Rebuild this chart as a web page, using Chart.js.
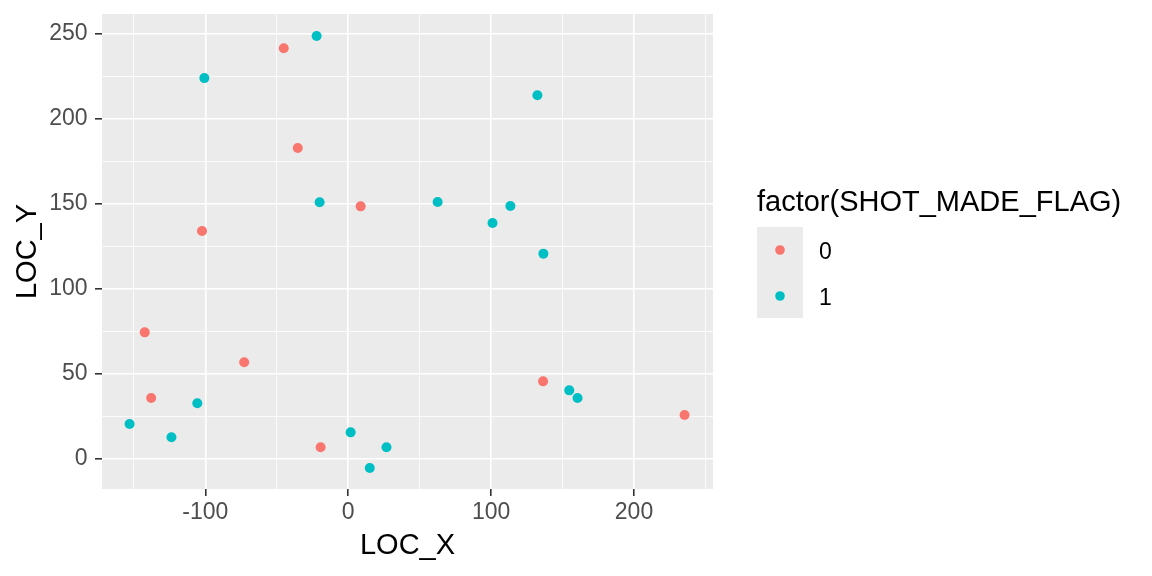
<!DOCTYPE html>
<html>
<head>
<meta charset="utf-8">
<script src="https://cdn.jsdelivr.net/npm/chart.js@4/dist/chart.umd.min.js"></script>
<style>
  html, body { margin: 0; padding: 0; background: #ffffff; }
  canvas { display: block; }
</style>
</head>
<body>
<canvas id="shotChart" width="1152" height="576"></canvas>
<script>
// shots that missed (SHOT_MADE_FLAG = 0)
const missX = [-45.1, -35.3, 8.7, -102.3, -142.4, -72.8, -137.9, -19.3, 136.4, 235.4];
const missY = [241.6, 182.9, 148.6, 134.1, 74.5, 56.9, 35.9, 6.9, 45.7, 25.9];
// shots that went in (SHOT_MADE_FLAG = 1)
const madeX = [-22.1, -100.7, -20.0, 62.6, 113.5, 101.0, 132.4, 136.6, -105.6, -153.0, -123.7, 1.7, 15.1, 26.8, 154.7, 160.5];
const madeY = [248.8, 224.0, 151.0, 151.2, 148.8, 138.8, 213.9, 120.8, 32.8, 20.6, 12.8, 15.7, -5.3, 6.9, 40.4, 35.9];

const xTickLabels = [-100, 0, 100, 200];
const yTickLabels = [0, 50, 100, 150, 200, 250];
const flagLabels = ["0", "1"];
const flagColors = ["#F8766D", "#00BFC4"];

const FONT = "'Liberation Sans', Arial, sans-serif";

function toPoints(xs, ys) {
    return xs.map((x, i) => ({ x: x, y: ys[i] }));
}

// grey panel behind the grid
const panelBg = {
    id: "panelBg",
    beforeDraw(chart) {
        const a = chart.chartArea;
        const ctx = chart.ctx;
        ctx.save();
        ctx.fillStyle = "#EBEBEB";
        ctx.fillRect(a.left, a.top, a.right - a.left, a.bottom - a.top);
        ctx.restore();
    }
};

// ggplot style legend on the right
const ggLegend = {
    id: "ggLegend",
    afterDraw(chart) {
        const ctx = chart.ctx;
        ctx.save();
        ctx.fillStyle = "#000000";
        ctx.font = "29px " + FONT;
        ctx.textBaseline = "alphabetic";
        ctx.textAlign = "left";
        ctx.fillText("factor(SHOT_MADE_FLAG)", 757, 211);
        ctx.fillStyle = "#EBEBEB";
        ctx.fillRect(757, 227, 46, 91);
        ctx.font = "23px " + FONT;
        flagLabels.forEach((lab, i) => {
            const cy = 250 + i * 46;
            ctx.fillStyle = flagColors[i];
            ctx.beginPath();
            ctx.arc(780, cy, 4.8, 0, Math.PI * 2);
            ctx.fill();
            ctx.fillStyle = "#000000";
            ctx.fillText(lab, 819, cy + 9);
        });
        ctx.restore();
    }
};

const ctx = document.getElementById("shotChart").getContext("2d");

const myChart = new Chart(ctx, {
    type: "scatter",
    data: {
        datasets: [
            {
                label: flagLabels[0],
                data: toPoints(missX, missY),
                backgroundColor: flagColors[0],
                borderWidth: 0,
                pointRadius: 5,
            },
            {
                label: flagLabels[1],
                data: toPoints(madeX, madeY),
                backgroundColor: flagColors[1],
                borderWidth: 0,
                pointRadius: 5,
            },
        ],
    },
    options: {
        responsive: false,
        animation: false,
        devicePixelRatio: 1,
        layout: {
            padding: { left: 0, top: 14, right: 439, bottom: 0 }
        },
        plugins: {
            legend: { display: false },
            tooltip: { enabled: false },
        },
        scales: {
            x: {
                type: "linear",
                min: -172.3,
                max: 255.3,
                border: { display: false },
                grid: {
                    color: "#FFFFFF",
                    lineWidth: (c) => xTickLabels.includes(c.tick && c.tick.value) ? 1.6 : 0.8,
                    tickColor: (c) => xTickLabels.includes(c.tick && c.tick.value) ? "#333333" : "rgba(0,0,0,0)",
                    tickWidth: 1.6,
                    tickLength: 7,
                },
                ticks: {
                    stepSize: 50,
                    includeBounds: false,
                    autoSkip: false,
                    maxRotation: 0,
                    padding: 5,
                    color: "#4D4D4D",
                    font: { family: FONT, size: 23, lineHeight: 1 },
                    callback: (v) => xTickLabels.includes(v) ? String(v) : "",
                },
                title: {
                    display: true,
                    text: "LOC_X",
                    color: "#000000",
                    font: { family: FONT, size: 29, lineHeight: 1 },
                    padding: { top: 0, bottom: 16 },
                },
                afterFit(scale) {
                    scale.height = 87;
                    scale.paddingLeft = 0;
                    scale.paddingRight = 0;
                },
            },
            y: {
                type: "linear",
                min: -17.6,
                max: 261.7,
                border: { display: false },
                grid: {
                    color: "#FFFFFF",
                    lineWidth: (c) => yTickLabels.includes(c.tick && c.tick.value) ? 1.6 : 0.8,
                    tickColor: (c) => yTickLabels.includes(c.tick && c.tick.value) ? "#333333" : "rgba(0,0,0,0)",
                    tickWidth: 1.6,
                    tickLength: 7,
                },
                ticks: {
                    stepSize: 25,
                    includeBounds: false,
                    autoSkip: false,
                    padding: 7.5,
                    color: "#4D4D4D",
                    font: { family: FONT, size: 23, lineHeight: 1 },
                    callback: (v) => yTickLabels.includes(v) ? String(v) : "",
                },
                title: {
                    display: true,
                    text: "LOC_Y",
                    color: "#000000",
                    font: { family: FONT, size: 29, lineHeight: 1 },
                    padding: { top: 13, bottom: 0 },
                },
                afterFit(scale) {
                    scale.width = 102;
                    scale.paddingTop = 0;
                    scale.paddingBottom = 0;
                },
            },
        },
    },
    plugins: [panelBg, ggLegend],
});
</script>
</body>
</html>
